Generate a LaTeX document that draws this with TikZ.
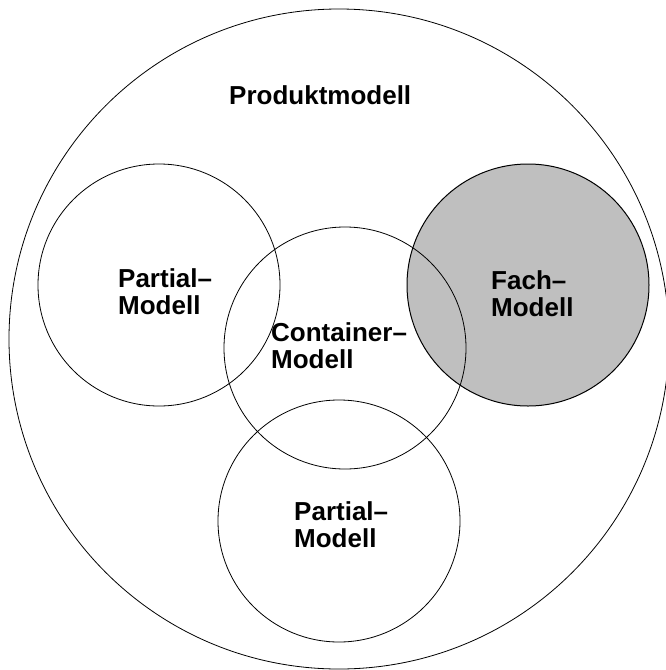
\documentclass[tikz,border=0pt]{standalone}
\usepackage{fontspec}
\setmainfont{Liberation Sans}
\begin{document}
\begin{tikzpicture}[x=1pt,y=-1pt,
  ring/.style={circle,draw=black,line width=0.8pt,inner sep=0pt},
  lbl/.style={font=\bfseries\fontsize{26}{27}\selectfont,align=left,anchor=base west,inner sep=0pt}]
\useasboundingbox (0,0) rectangle (665,670);
\node[ring,minimum size=660pt] (prod) at (339,339) {};
\node[ring,line width=1pt,fill={rgb,255:red,191;green,191;blue,191},minimum size=242pt] (fach) at (528,285) {};
\node[ring,minimum size=242pt] (pl) at (159,285) {};
\node[ring,minimum size=242pt] (cont) at (345,348) {};
\node[ring,minimum size=242pt] (pb) at (339,521) {};
\node[lbl] (tprod) at (229,104) {Produktmodell};
\node[lbl] (tpl) at (118,314) {Partial–\\Modell};
\node[lbl] (tcont) at (271,368) {Container–\\Modell};
\node[lbl] (tfach) at (491,316) {Fach–\\Modell};
\node[lbl] (tpb) at (294,547) {Partial–\\Modell};
\end{tikzpicture}
\end{document}
